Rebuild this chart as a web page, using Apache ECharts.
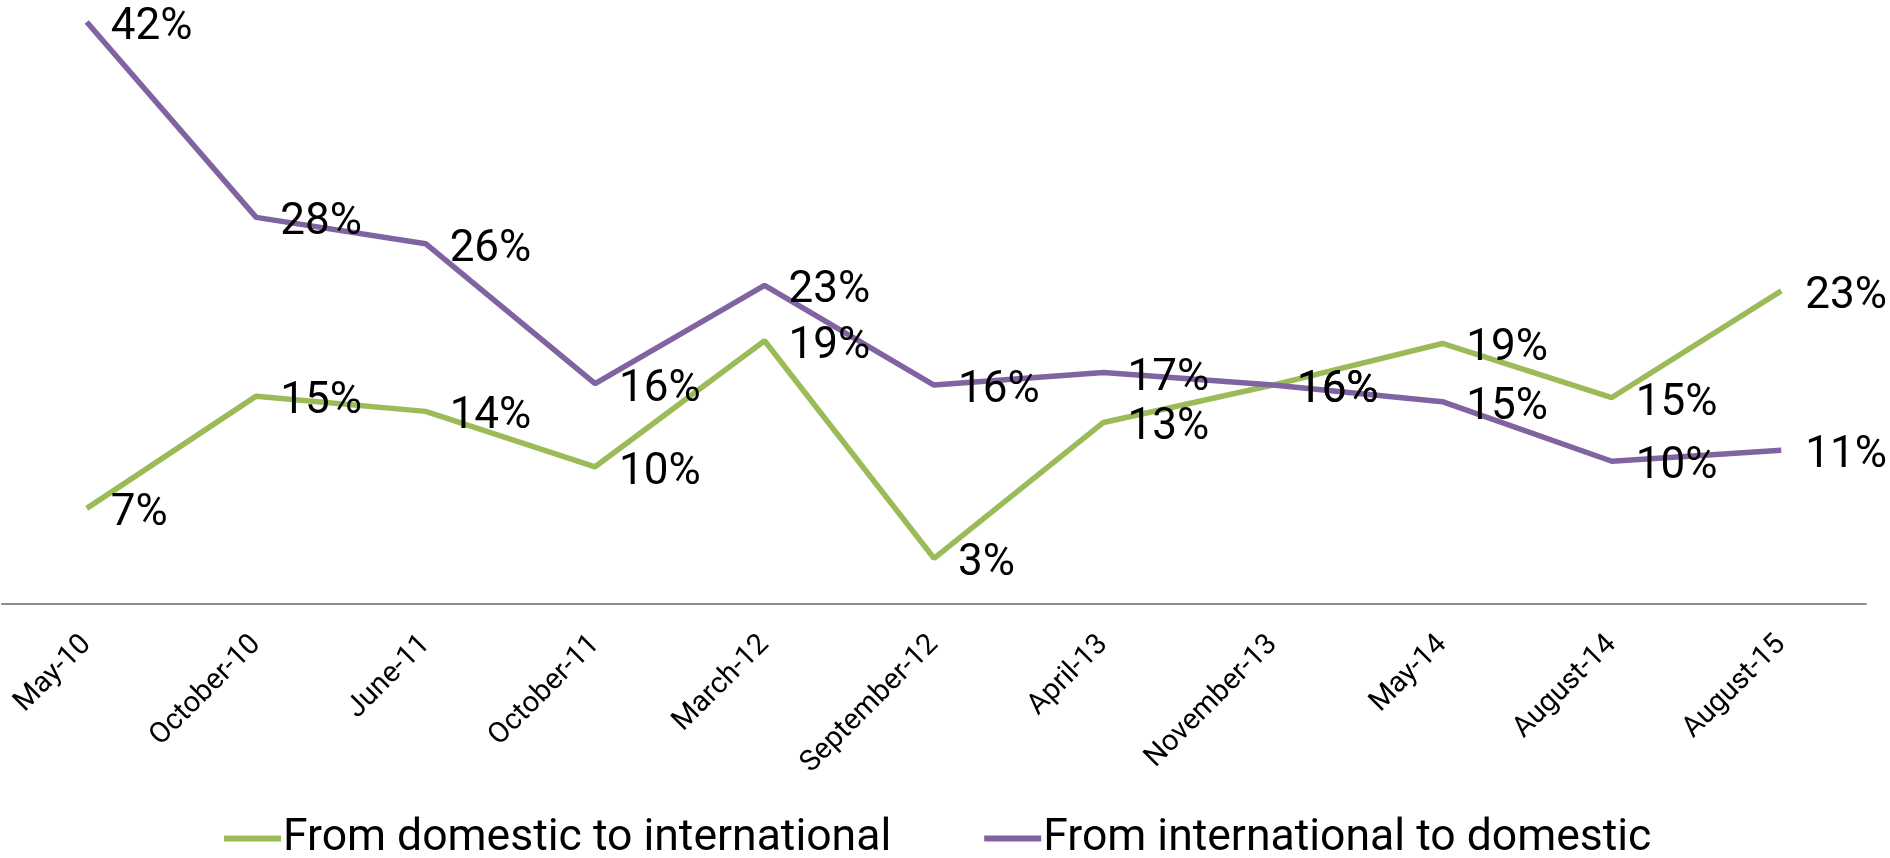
<!DOCTYPE html>
<html>
<head>
<meta charset="utf-8">
<script src="https://cdn.jsdelivr.net/npm/echarts@6/dist/echarts.min.js"></script>
<style>
html,body{margin:0;padding:0;background:#fff;}
#chart{width:1890px;height:858px;}
</style>
</head>
<body>
<div id="chart"></div>
<script>
const categories = ['May-10','October-10','June-11','October-11','March-12','September-12','April-13','November-13','May-14','August-14','August-15'];
const domesticToInternational = [6.9, 15.0, 13.9, 9.9, 19.0, 3.3, 13.1, 15.8, 18.8, 14.9, 22.6];
const internationalToDomestic = [42.0, 27.9, 26.0, 15.9, 23.0, 15.8, 16.7, 15.8, 14.6, 10.3, 11.1];
const seriesNames = ['From domestic to international', 'From international to domestic'];

const FONT = "Roboto, 'Liberation Sans', Arial, sans-serif";
const chart = echarts.init(document.getElementById('chart'));
const labelCfg = {
  show: true,
  position: 'right',
  distance: 24,
  offset: [0, 6],
  fontSize: 44,
  fontFamily: FONT,
  color: '#000',
  formatter: p => Math.round(p.value) + '%'
};
chart.setOption({
  animation: false,
  backgroundColor: '#fff',
  grid: { left: 2, right: 24, top: 22, bottom: 254, containLabel: false },
  legend: {
    left: 219,
    top: 811,
    itemWidth: 57,
    itemHeight: 6,
    itemGap: 93,
    textStyle: { fontSize: 44.5, fontFamily: FONT, color: '#000', padding: [0,0,0,-3] },
    data: [
      { name: seriesNames[0], icon: 'rect' },
      { name: seriesNames[1], icon: 'rect' }
    ]
  },
  xAxis: {
    type: 'category',
    data: categories,
    boundaryGap: true,
    axisLine: { show: true, lineStyle: { color: '#8c8c8c', width: 2 } },
    axisTick: { show: false },
    axisLabel: {
      rotate: 45,
      margin: 36,
      interval: 0,
      fontSize: 29,
      fontFamily: FONT,
      color: '#000'
    },
    splitLine: { show: false }
  },
  yAxis: {
    type: 'value',
    min: 0,
    max: 42,
    show: false,
    splitLine: { show: false }
  },
  series: [
    {
      name: seriesNames[0],
      type: 'line',
      data: domesticToInternational,
      showSymbol: true,
      symbol: 'circle',
      symbolSize: 0,
      clip: false,
      color: '#9BBB59',
      lineStyle: { color: '#9BBB59', width: 5.5 },
      label: labelCfg
    },
    {
      name: seriesNames[1],
      type: 'line',
      data: internationalToDomestic,
      showSymbol: true,
      symbol: 'circle',
      symbolSize: 0,
      clip: false,
      color: '#8064A2',
      lineStyle: { color: '#8064A2', width: 5.5 },
      label: labelCfg
    }
  ]
});
</script>
</body>
</html>
